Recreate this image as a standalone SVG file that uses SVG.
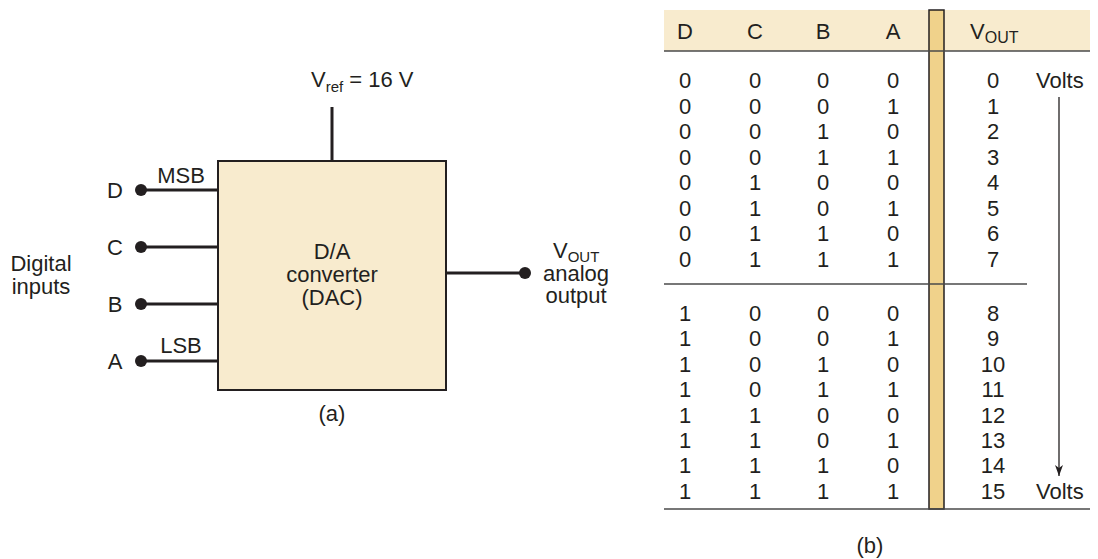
<svg xmlns="http://www.w3.org/2000/svg" width="1098" height="559" viewBox="0 0 1098 559">
<defs>
<style>
text{font-family:"Liberation Sans",Arial,sans-serif;font-size:22px;fill:#231f20}
.m{text-anchor:middle}
.w{stroke:#231f20;stroke-width:3;fill:none}
.r{stroke:#4a4a4a;stroke-width:1.6;fill:none}
.dot{fill:#231f20}
</style>
<marker id="ah" markerWidth="12" markerHeight="8" refX="11" refY="4" orient="auto" markerUnits="userSpaceOnUse" viewBox="0 0 12 8">
<path d="M0,0 L11,4 L0,8 L3,4 Z" fill="#231f20"/>
</marker>
</defs>
<rect width="1098" height="559" fill="#ffffff"/>

<g id="connectors">
<line class="w" x1="332" y1="107" x2="332" y2="161"/>
<line class="w" x1="141" y1="190" x2="218" y2="190"/>
<line class="w" x1="141" y1="247" x2="218" y2="247"/>
<line class="w" x1="141" y1="304" x2="218" y2="304"/>
<line class="w" x1="141" y1="361" x2="218" y2="361"/>
<line class="w" x1="446" y1="273" x2="525" y2="273"/>
</g>

<g id="dac">
<rect x="218" y="161" width="228" height="229" fill="#f8ebce" stroke="#231f20" stroke-width="2"/>
<text class="m" x="332" y="259">D/A</text>
<text class="m" x="332" y="282">converter</text>
<text class="m" x="332" y="305">(DAC)</text>
</g>

<g id="vref">
<text x="311" y="87">V<tspan font-size="15" dy="5">ref</tspan><tspan dy="-5"> = 16 V</tspan></text>
</g>

<g id="inputD"><circle class="dot" cx="141" cy="190" r="6"/><text class="m" x="115" y="198">D</text><text class="m" x="181" y="183">MSB</text></g>
<g id="inputC"><circle class="dot" cx="141" cy="247" r="6"/><text class="m" x="115" y="255">C</text></g>
<g id="inputB"><circle class="dot" cx="141" cy="304" r="6"/><text class="m" x="115" y="312">B</text></g>
<g id="inputA"><circle class="dot" cx="141" cy="361" r="6"/><text class="m" x="115" y="369">A</text><text class="m" x="181" y="353">LSB</text></g>

<g id="digital-inputs">
<text class="m" x="41" y="271">Digital</text>
<text class="m" x="41" y="294">inputs</text>
</g>

<g id="output">
<circle class="dot" cx="525" cy="273" r="6"/>
<text font-size="21"><tspan x="553" y="258">V</tspan><tspan font-size="15" dy="4">OUT</tspan><tspan class="m" text-anchor="middle" x="576" y="281">analog</tspan><tspan text-anchor="middle" x="576" y="303">output</tspan></text>
</g>

<text class="m" x="332" y="421">(a)</text>

<g id="table">
<rect x="664" y="10" width="426" height="41" fill="#f8ebce"/>
<rect x="929" y="10" width="15" height="499" fill="#f0d28b" stroke="#231f20" stroke-width="1.5"/>
<line class="r" x1="664" y1="51" x2="1090" y2="51"/>
<line class="r" x1="664" y1="284" x2="1027" y2="284"/>
<line class="r" x1="664" y1="509" x2="1090" y2="509"/>
<g font-size="21">
<text class="m" x="685" y="39">D</text>
<text class="m" x="755" y="39">C</text>
<text class="m" x="823" y="39">B</text>
<text class="m" x="893" y="39">A</text>
<text x="970" y="39">V<tspan font-size="16" dy="4">OUT</tspan></text>
</g>
<g class="m">
<text x="685" y="88">0</text><text x="755" y="88">0</text><text x="823" y="88">0</text><text x="893" y="88">0</text><text x="993" y="88">0</text>
<text x="685" y="113.5">0</text><text x="755" y="113.5">0</text><text x="823" y="113.5">0</text><text x="893" y="113.5">1</text><text x="993" y="113.5">1</text>
<text x="685" y="139">0</text><text x="755" y="139">0</text><text x="823" y="139">1</text><text x="893" y="139">0</text><text x="993" y="139">2</text>
<text x="685" y="164.5">0</text><text x="755" y="164.5">0</text><text x="823" y="164.5">1</text><text x="893" y="164.5">1</text><text x="993" y="164.5">3</text>
<text x="685" y="190">0</text><text x="755" y="190">1</text><text x="823" y="190">0</text><text x="893" y="190">0</text><text x="993" y="190">4</text>
<text x="685" y="215.5">0</text><text x="755" y="215.5">1</text><text x="823" y="215.5">0</text><text x="893" y="215.5">1</text><text x="993" y="215.5">5</text>
<text x="685" y="241">0</text><text x="755" y="241">1</text><text x="823" y="241">1</text><text x="893" y="241">0</text><text x="993" y="241">6</text>
<text x="685" y="266.5">0</text><text x="755" y="266.5">1</text><text x="823" y="266.5">1</text><text x="893" y="266.5">1</text><text x="993" y="266.5">7</text>
<text x="685" y="321">1</text><text x="755" y="321">0</text><text x="823" y="321">0</text><text x="893" y="321">0</text><text x="993" y="321">8</text>
<text x="685" y="346.4">1</text><text x="755" y="346.4">0</text><text x="823" y="346.4">0</text><text x="893" y="346.4">1</text><text x="993" y="346.4">9</text>
<text x="685" y="371.8">1</text><text x="755" y="371.8">0</text><text x="823" y="371.8">1</text><text x="893" y="371.8">0</text><text x="993" y="371.8">10</text>
<text x="685" y="397.2">1</text><text x="755" y="397.2">0</text><text x="823" y="397.2">1</text><text x="893" y="397.2">1</text><text x="993" y="397.2">11</text>
<text x="685" y="422.6">1</text><text x="755" y="422.6">1</text><text x="823" y="422.6">0</text><text x="893" y="422.6">0</text><text x="993" y="422.6">12</text>
<text x="685" y="448">1</text><text x="755" y="448">1</text><text x="823" y="448">0</text><text x="893" y="448">1</text><text x="993" y="448">13</text>
<text x="685" y="473.4">1</text><text x="755" y="473.4">1</text><text x="823" y="473.4">1</text><text x="893" y="473.4">0</text><text x="993" y="473.4">14</text>
<text x="685" y="498.8">1</text><text x="755" y="498.8">1</text><text x="823" y="498.8">1</text><text x="893" y="498.8">1</text><text x="993" y="498.8">15</text>
</g>
<text x="1036" y="88">Volts</text>
<text x="1036" y="499">Volts</text>
<line x1="1059" y1="97" x2="1059" y2="476" stroke="#231f20" stroke-width="1.3" marker-end="url(#ah)"/>
</g>
<text class="m" x="870" y="553">(b)</text>
</svg>
